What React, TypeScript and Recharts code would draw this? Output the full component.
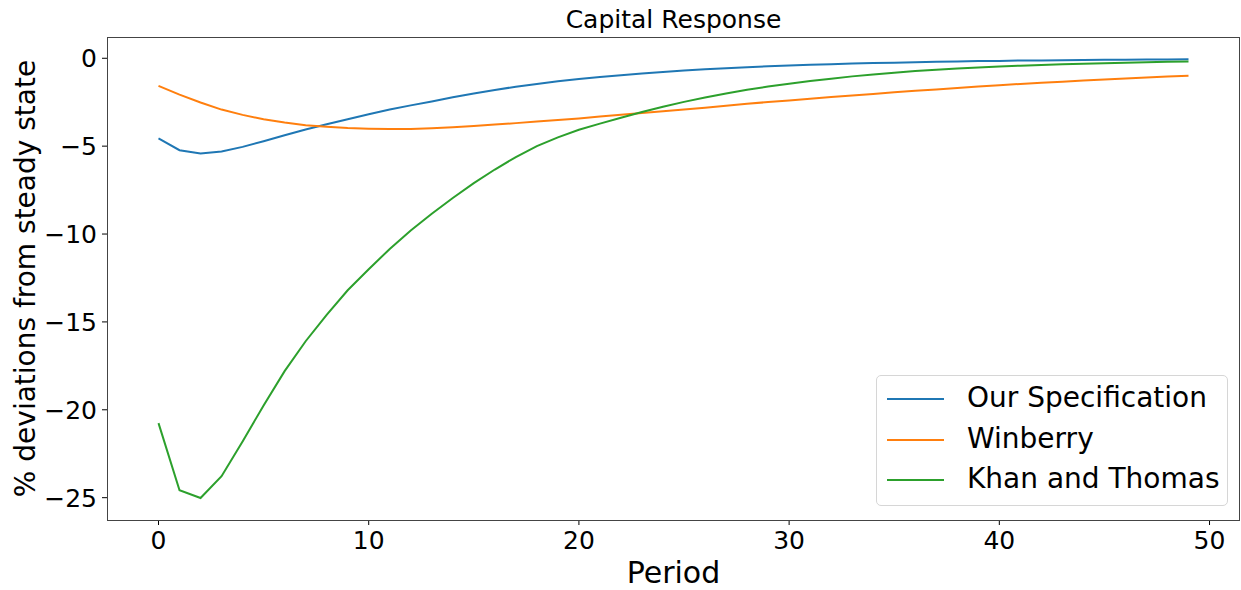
import React from 'react';
import { LineChart, Line, XAxis, YAxis, Legend } from 'recharts';

const periods = Array.from({ length: 50 }, (_, i) => i);

const ourSpecification = [
    -4.56, -5.23, -5.42, -5.30, -5.04, -4.72, -4.38, -4.05, -3.75, -3.47,
    -3.18, -2.92, -2.68, -2.46, -2.22, -2.00, -1.80, -1.62, -1.46, -1.31,
    -1.18, -1.06, -0.96, -0.86, -0.78, -0.70, -0.63, -0.57, -0.51, -0.46,
    -0.41, -0.37, -0.34, -0.30, -0.27, -0.25, -0.22, -0.20, -0.18, -0.16,
    -0.15, -0.13, -0.12, -0.11, -0.10, -0.09, -0.08, -0.07, -0.07, -0.06,
];

const winberry = [
    -1.57, -2.07, -2.52, -2.92, -3.22, -3.47, -3.66, -3.81, -3.90, -3.97,
    -4.01, -4.03, -4.02, -3.98, -3.92, -3.85, -3.77, -3.69, -3.60, -3.51,
    -3.42, -3.32, -3.22, -3.12, -3.02, -2.92, -2.81, -2.70, -2.59, -2.49,
    -2.40, -2.30, -2.21, -2.12, -2.03, -1.94, -1.85, -1.77, -1.69, -1.61,
    -1.53, -1.46, -1.39, -1.33, -1.27, -1.21, -1.15, -1.09, -1.04, -0.99,
];

const khanThomas = [
    -20.76, -24.58, -25.02, -23.78, -21.80, -19.75, -17.80, -16.10, -14.60, -13.20,
    -12.00, -10.85, -9.80, -8.85, -7.95, -7.10, -6.33, -5.62, -5.00, -4.50,
    -4.07, -3.72, -3.38, -3.06, -2.76, -2.48, -2.23, -2.00, -1.79, -1.61,
    -1.45, -1.30, -1.16, -1.03, -0.92, -0.82, -0.73, -0.65, -0.58, -0.52,
    -0.47, -0.42, -0.38, -0.34, -0.31, -0.28, -0.25, -0.22, -0.20, -0.18,
];

const xTicks = [0, 10, 20, 30, 40, 50];
const yTicks = [-25, -20, -15, -10, -5, 0];

const seriesList = [
    { key: 'ours', name: 'Our Specification', values: ourSpecification, color: '#1f77b4' },
    { key: 'winberry', name: 'Winberry', values: winberry, color: '#ff7f0e' },
    { key: 'kt', name: 'Khan and Thomas', values: khanThomas, color: '#2ca02c' },
];

const data = periods.map((p, i) => ({
    period: p,
    ours: ourSpecification[i],
    winberry: winberry[i],
    kt: khanThomas[i],
}));

const FONT = '"DejaVu Sans", sans-serif';

const fmtTick = (v: number) => (v < 0 ? `\u2212${Math.abs(v)}` : `${v}`);

function LegendBox({ payload }: any) {
    // mantém a ordem das séries (o Recharts ordena por nome)
    const order = seriesList.map((s) => s.name);
    const items = [...(payload || [])].sort(
        (a: any, b: any) => order.indexOf(a.value) - order.indexOf(b.value)
    );
    return (
        <div
            style={{
                boxSizing: 'border-box',
                width: 352,
                height: 131,
                border: '1px solid #d6d6d6',
                borderRadius: 5,
                background: 'rgba(255,255,255,0.8)',
                paddingTop: 2,
                fontFamily: FONT,
            }}
        >
            {items.map((item: any) => (
                <div key={item.value} style={{ position: 'relative', height: 40.5 }}>
                    <div
                        style={{
                            position: 'absolute',
                            left: 10,
                            top: 20,
                            width: 57,
                            height: 2,
                            background: item.color,
                        }}
                    />
                    <span
                        style={{
                            position: 'absolute',
                            left: 90,
                            top: 0,
                            fontSize: 28,
                            lineHeight: '40.5px',
                            color: '#000',
                            whiteSpace: 'nowrap',
                        }}
                    >
                        {item.value}
                    </span>
                </div>
            ))}
        </div>
    );
}

export default function App() {
    return (
        <div style={{ position: 'absolute', left: 0, top: 0, width: 1241, height: 590, background: '#fff', fontFamily: FONT }}>
            {/* titulo */}
            <div
                style={{
                    position: 'absolute',
                    left: 107,
                    top: 7,
                    width: 1133,
                    textAlign: 'center',
                    fontSize: 25,
                    lineHeight: '25px',
                    color: '#000',
                }}
            >
                Capital Response
            </div>

            <LineChart
                width={1241}
                height={590}
                data={data}
                margin={{ top: 37, right: 1, left: 0, bottom: 0 }}
            >
                <XAxis
                    dataKey="period"
                    type="number"
                    domain={[-2.45, 51.45]}
                    ticks={xTicks}
                    height={70}
                    axisLine={false}
                    tickLine={{ stroke: '#000' }}
                    tickSize={5}
                    tickMargin={6}
                    tick={{ fontSize: 25, fill: '#000', fontFamily: FONT }}
                    label={{
                        value: 'Period',
                        position: 'insideBottom',
                        offset: 7,
                        fontSize: 30,
                        fill: '#000',
                        fontFamily: FONT,
                    }}
                />
                <YAxis
                    type="number"
                    domain={[-26.27, 1.21]}
                    ticks={yTicks}
                    width={107}
                    axisLine={false}
                    tickLine={{ stroke: '#000' }}
                    tickSize={5}
                    tickMargin={5}
                    tickFormatter={fmtTick}
                    tick={{ fontSize: 25, fill: '#000', fontFamily: FONT }}
                    label={{
                        content: ({ viewBox }: any) => {
                            const cy = viewBox.y + viewBox.height / 2;
                            return (
                                <text
                                    x={35}
                                    y={cy}
                                    transform={`rotate(-90 35 ${cy})`}
                                    textAnchor="middle"
                                    fontSize={28}
                                    fill="#000"
                                    fontFamily={FONT}
                                >
                                    % deviations from steady state
                                </text>
                            );
                        },
                    }}
                />
                {seriesList.map((s) => (
                    <Line
                        key={s.key}
                        dataKey={s.key}
                        name={s.name}
                        stroke={s.color}
                        strokeWidth={2}
                        dot={false}
                        activeDot={false}
                        type="linear"
                        isAnimationActive={false}
                    />
                ))}
                <Legend
                    layout="horizontal"
                    verticalAlign="middle"
                    align="center"
                    content={<LegendBox />}
                    wrapperStyle={{ left: 876, top: 375, width: 352, height: 131 }}
                />
            </LineChart>

            {/* moldura do grafico */}
            <div
                style={{
                    position: 'absolute',
                    left: 107,
                    top: 37,
                    width: 1133,
                    height: 484,
                    boxSizing: 'border-box',
                    border: '1px solid #444',
                    pointerEvents: 'none',
                }}
            />
        </div>
    );
}
